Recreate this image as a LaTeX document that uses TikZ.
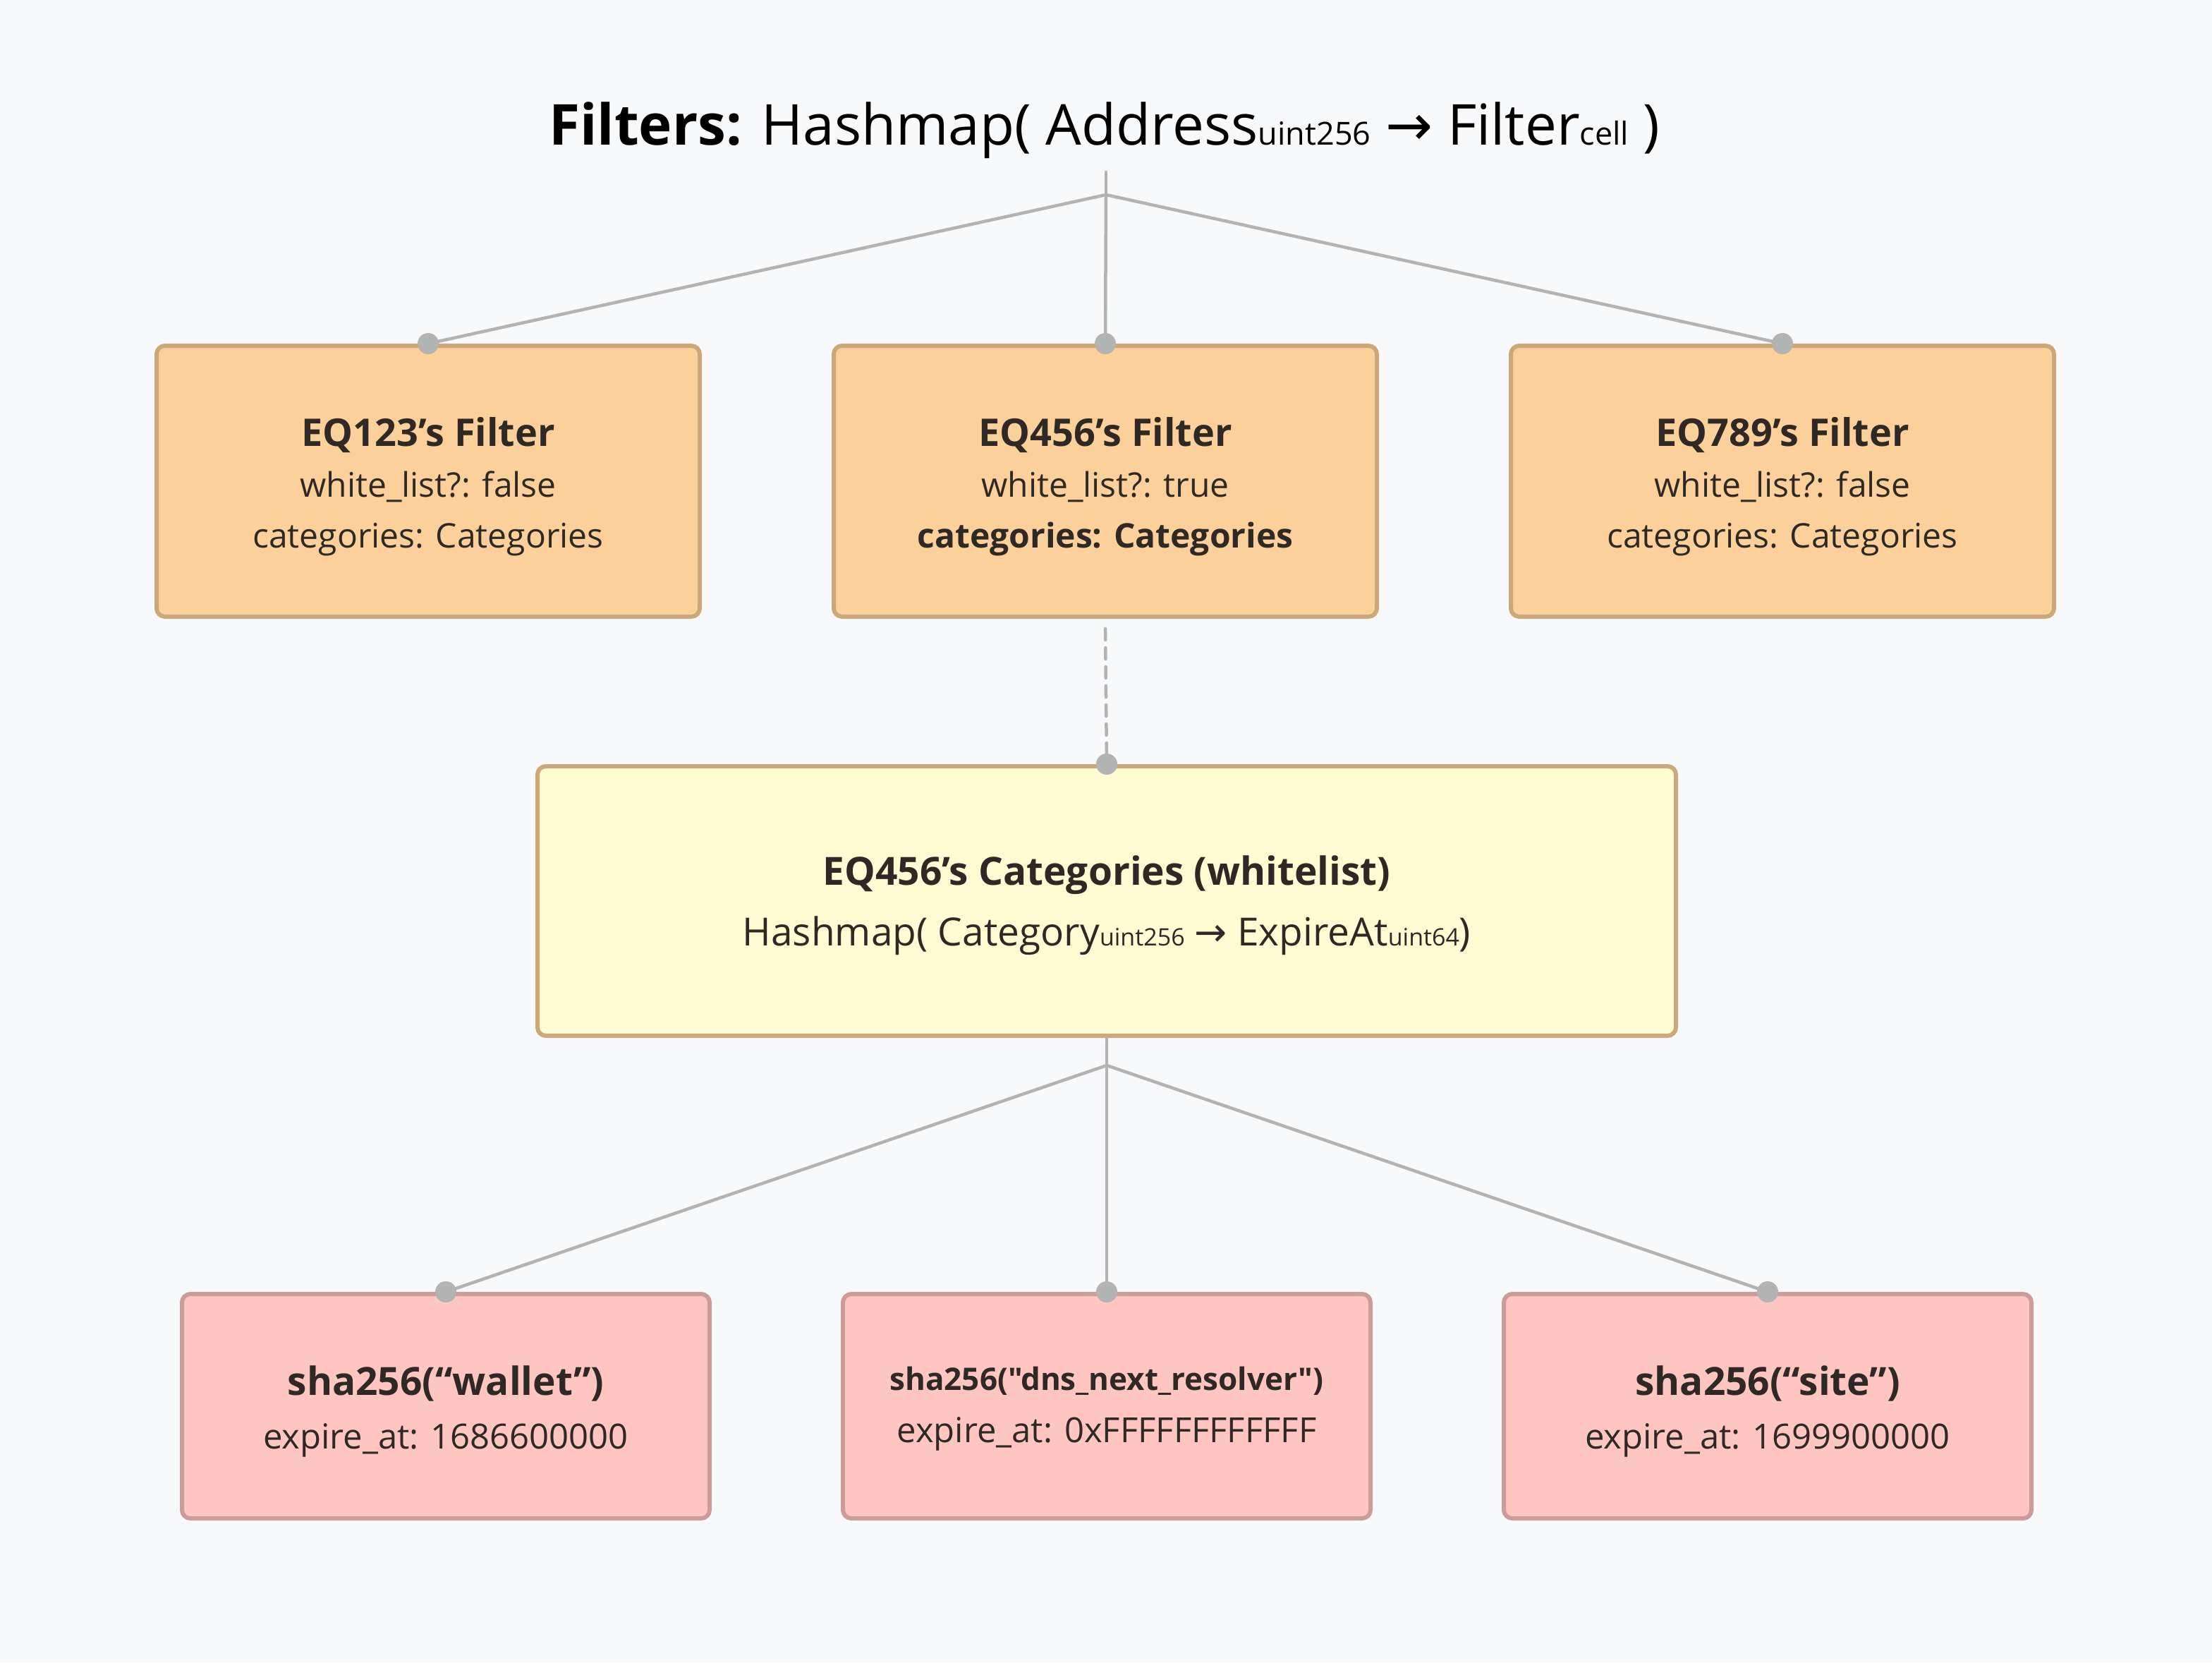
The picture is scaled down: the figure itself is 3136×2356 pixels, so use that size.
\documentclass[tikz,border=0pt]{standalone}
\usepackage{fontspec}
\setmainfont{Open Sans}
\newfontfamily\arrowfont{DejaVu Sans}
\definecolor{bg}{HTML}{F8F9FB}
\definecolor{orfill}{HTML}{FCD09B}
\definecolor{orline}{HTML}{CCA77A}
\definecolor{yefill}{HTML}{FFFCD3}
\definecolor{yeline}{HTML}{CCA87A}
\definecolor{pkfill}{HTML}{FFC6C1}
\definecolor{pkline}{HTML}{CC9D98}
\definecolor{conn}{HTML}{B3B3B3}
\definecolor{txt}{HTML}{2E2924}
\tikzset{
  box/.style={draw, line width=6pt, rounded corners=12pt, inner sep=0pt},
  filterbox/.style={box, fill=orfill, draw=orline, minimum width=770pt, minimum height=384pt},
  catbox/.style={box, fill=yefill, draw=yeline, minimum width=1614pt, minimum height=382pt},
  keybox/.style={box, fill=pkfill, draw=pkline, minimum width=748pt, minimum height=318pt},
  boxtext/.style={align=center, text=txt, inner sep=0pt},
  link/.style={draw=conn, line width=4.5pt, line cap=round, line join=round},
  dashlink/.style={link, dash pattern=on 16pt off 11pt},
  pin/.style={fill=conn, draw=none},
}
\newcommand{\sbx}[1]{{\fontsize{34}{34}\selectfont #1}}
\begin{document}
\begin{tikzpicture}[x=1pt,y=-1pt]
\fill[bg] (0,0) rectangle (3136,2356);
\useasboundingbox (0,0) rectangle (3136,2356);

\node[font=\fontsize{80}{80}\selectfont, anchor=base, text=black] (title) at (1566,205)
  {{\bfseries Filters:} Hashmap( Address{\fontsize{45}{45}\selectfont uint256} {\arrowfont →} Filter{\fontsize{45}{45}\selectfont cell} )};

\coordinate (ttop) at (1568,244);
\coordinate (tj) at (1568,276);

\node[filterbox] (f1) at (607,682) {};
\node[filterbox] (f2) at (1567,682) {};
\node[filterbox] (f3) at (2527,682) {};
\node[boxtext, font=\fontsize{48}{72}\selectfont] (f1t) at ([yshift=-8pt]f1.center) {{\fontsize{54}{72}\selectfont\bfseries EQ123’s Filter}\\white\_list?: false\\categories: Categories};
\node[boxtext, font=\fontsize{48}{72}\selectfont] (f2t) at ([yshift=-8pt]f2.center) {{\fontsize{54}{72}\selectfont\bfseries EQ456’s Filter}\\white\_list?: true\\{\bfseries categories: Categories}};
\node[boxtext, font=\fontsize{48}{72}\selectfont] (f3t) at ([yshift=-8pt]f3.center) {{\fontsize{54}{72}\selectfont\bfseries EQ789’s Filter}\\white\_list?: false\\categories: Categories};

\node[catbox] (cat) at (1569,1277) {};
\node[boxtext, font=\fontsize{55}{86}\selectfont] (catt) at ([yshift=-6pt]cat.center) {{\fontsize{55}{86}\selectfont\bfseries EQ456’s Categories (whitelist)}\\Hashmap( Category\sbx{uint256} {\arrowfont →} ExpireAt\sbx{uint64})};

\coordinate (cj) at (1569,1510);

\node[keybox] (k1) at (632,1993) {};
\node[keybox] (k2) at (1569,1993) {};
\node[keybox] (k3) at (2506,1993) {};
\node[boxtext, font=\fontsize{49}{76}\selectfont] (k1t) at ([yshift=-7pt]k1.center) {{\fontsize{55}{76}\selectfont\bfseries sha256(“wallet”)}\\expire\_at: 1686600000};
\node[boxtext, font=\fontsize{49}{74}\selectfont] (k2t) at ([yshift=-4pt]k2.center) {{\fontsize{44}{74}\selectfont\bfseries\addfontfeatures{Ligatures=TeXOff}sha256("dns\_next\_resolver")}\\expire\_at: 0xFFFFFFFFFFFF};
\node[boxtext, font=\fontsize{49}{76}\selectfont] (k3t) at ([yshift=-7pt]k3.center) {{\fontsize{55}{76}\selectfont\bfseries sha256(“site”)}\\expire\_at: 1699900000};

% top connectors
\draw[link] (ttop) -- (tj);
\draw[link] (tj) -- (f1.north);
\draw[link] (tj) -- (f2.north);
\draw[link] (tj) -- (f3.north);
\fill[pin] (f1.north) circle (15pt);
\fill[pin] (f2.north) circle (15pt);
\fill[pin] (f3.north) circle (15pt);

% dashed
\draw[dashlink] ([yshift=-14pt]f2.south) -- (cat.north);
\fill[pin] (cat.north) circle (15pt);

% bottom connectors
\draw[link] (cat.south) -- (cj);
\draw[link] (cj) -- (k1.north);
\draw[link] (cj) -- (k2.north);
\draw[link] (cj) -- (k3.north);
\fill[pin] (k1.north) circle (15pt);
\fill[pin] (k2.north) circle (15pt);
\fill[pin] (k3.north) circle (15pt);
\end{tikzpicture}
\end{document}
